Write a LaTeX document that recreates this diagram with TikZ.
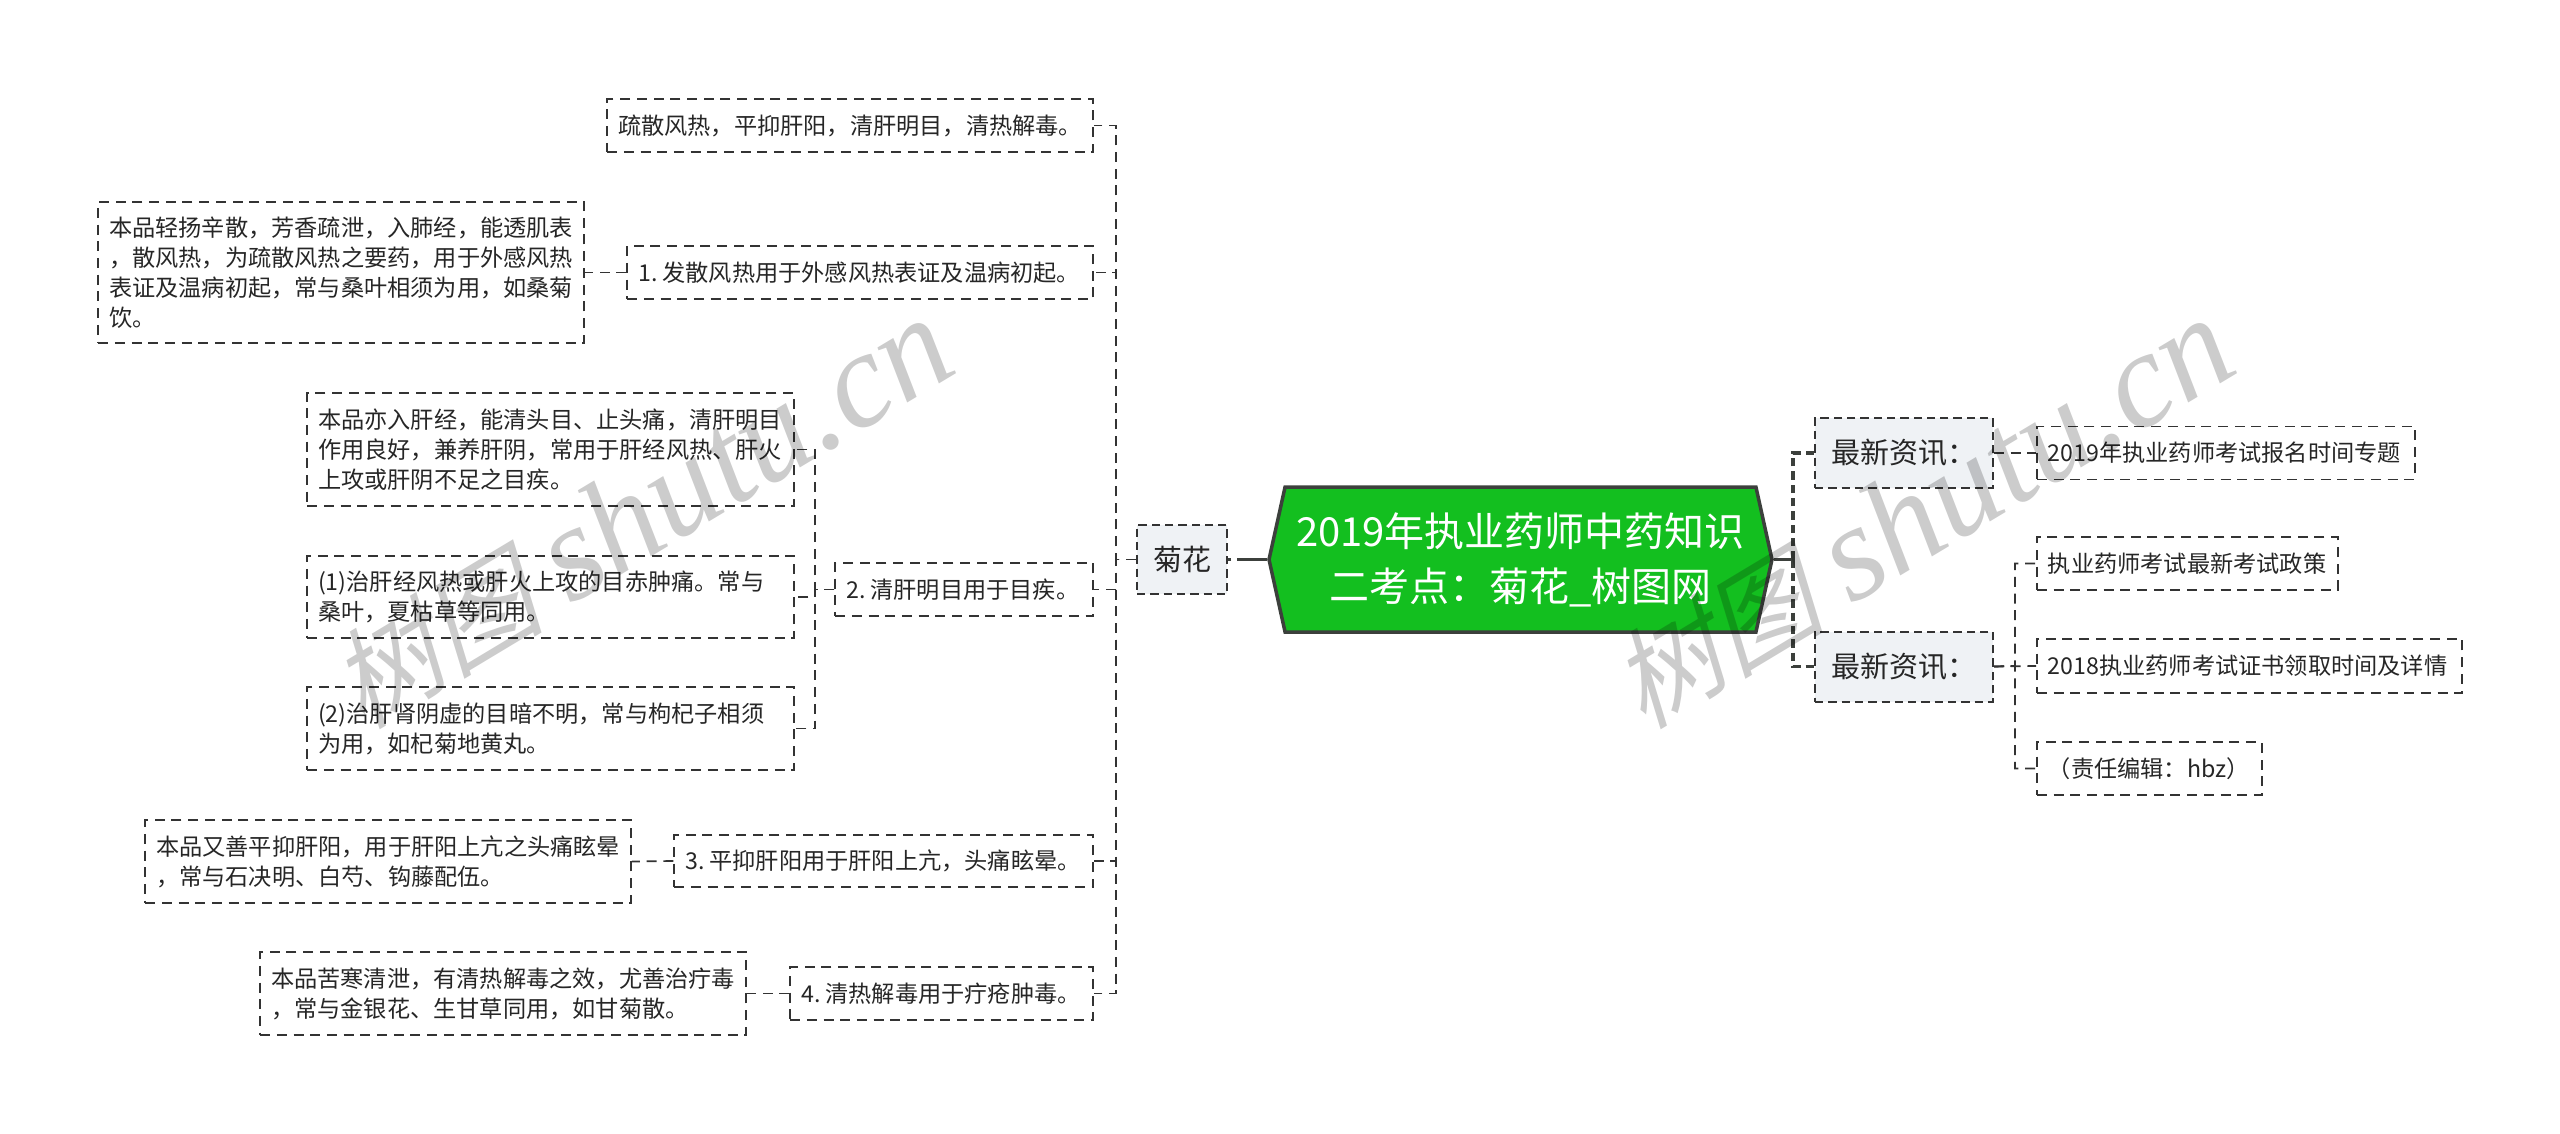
\documentclass[tikz,border=0pt]{standalone}
\usepackage{fontspec}
\setmainfont{Noto Sans CJK SC}
\newfontfamily\wmcjk[FakeSlant=0.25]{Noto Sans CJK SC}
\newfontfamily\wmlatin{Liberation Serif}
\usetikzlibrary{shapes.symbols}
\definecolor{rootgreen}{HTML}{13BF1F}
\definecolor{rootedge}{HTML}{3C403C}
\definecolor{boxfill}{HTML}{EFF2F5}
\definecolor{inkgray}{HTML}{333333}
\tikzset{
  leafbox/.style={draw=inkgray,line width=1.7pt,dash pattern=on 10pt off 6.7pt,inner xsep=11pt,inner ysep=0pt,
    align=left,text=black!85,font=\fontsize{23.2}{30}\selectfont,execute at end node={\par\vskip-6pt}},
  newsbox/.style={draw=inkgray,line width=2pt,dash pattern=on 8.3pt off 5pt,fill=boxfill,inner sep=0pt,
    text=black!85,font=\fontsize{29}{35}\selectfont},
  rootbox/.style={signal,signal to=west and east,signal pointer angle=155,draw=rootedge,line width=3.5pt,
    fill=rootgreen,inner sep=0pt,align=center,text=white,font=\fontsize{40}{55}\selectfont},
  linkline/.style={draw=inkgray,line width=1.7pt,dash pattern=on 10pt off 6.7pt},
  boldlink/.style={draw=rootedge,line width=3.4pt,dash pattern=on 8.3pt off 5pt},
  watermark/.style={opacity=0.2,text=black,rotate=31,inner sep=0pt,font=\fontsize{120}{130}\selectfont}
}
\newcommand{\markword}{{\wmcjk\fontsize{108}{130}\selectfont 树图} {\wmlatin\itshape\fontsize{136}{130}\selectfont shutu.cn}}
\begin{document}
\begin{tikzpicture}[x=1pt,y=-1pt]
\useasboundingbox (0,0) rectangle (2560,1134);
\node[rootbox,minimum width=503pt,minimum height=145pt] (root) at (1520.5,559.5) {2019年执业药师中药知识\\二考点：菊花\_树图网};
\node[newsbox,minimum width=90pt,minimum height=69pt] (flower) at (1182,559.5) {菊花};
\node[newsbox,minimum width=178pt,minimum height=70pt] (newsA) at (1904,453) {最新资讯：};
\node[newsbox,minimum width=178pt,minimum height=70pt] (newsB) at (1904,666.5) {最新资讯：};
\node[leafbox,anchor=east,text width=464pt,minimum height=53pt] (nZero) at (1094,125.5) {疏散风热，平抑肝阳，清肝明目，清热解毒。};
\node[leafbox,anchor=east,text width=444pt,minimum height=53pt] (nOne) at (1094,272.5) {1.\kern5pt 发散风热用于外感风热表证及温病初起。};
\node[leafbox,anchor=east,text width=236pt,minimum height=53pt] (nTwo) at (1094,589.5) {2.\kern5pt 清肝明目用于目疾。};
\node[leafbox,anchor=east,text width=397pt,minimum height=52pt] (nThree) at (1094,861) {3.\kern5pt 平抑肝阳用于肝阳上亢，头痛眩晕。};
\node[leafbox,anchor=east,text width=281pt,minimum height=53pt] (nFour) at (1094,993.5) {4.\kern5pt 清热解毒用于疔疮肿毒。};
\node[leafbox,anchor=east,text width=464pt,minimum height=141pt] (dOne) at (585,272.5) {本品轻扬辛散，芳香疏泄，入肺经，能透肌表\\，散风热，为疏散风热之要药，用于外感风热\\表证及温病初起，常与桑叶相须为用，如桑菊\\饮。};
\node[leafbox,anchor=east,text width=465pt,minimum height=113pt] (dTwoA) at (795,449.5) {本品亦入肝经，能清头目、止头痛，清肝明目\\作用良好，兼养肝阴，常用于肝经风热、肝火\\上攻或肝阴不足之目疾。};
\node[leafbox,anchor=east,text width=465pt,minimum height=82pt] (dTwoB) at (795,597) {(1)治肝经风热或肝火上攻的目赤肿痛。常与\\桑叶，夏枯草等同用。};
\node[leafbox,anchor=east,text width=465pt,minimum height=83pt] (dTwoC) at (795,728.5) {(2)治肝肾阴虚的目暗不明，常与枸杞子相须\\为用，如杞菊地黄丸。};
\node[leafbox,anchor=east,text width=464pt,minimum height=83pt] (dThree) at (632,861.5) {本品又善平抑肝阳，用于肝阳上亢之头痛眩晕\\，常与石决明、白芍、钩藤配伍。};
\node[leafbox,anchor=east,text width=464pt,minimum height=83pt] (dFour) at (747,993.5) {本品苦寒清泄，有清热解毒之效，尤善治疔毒\\，常与金银花、生甘草同用，如甘菊散。};
\node[leafbox,anchor=west,text width=356pt,minimum height=53pt] (itemA) at (2036,453) {2019年执业药师考试报名时间专题};
\node[leafbox,anchor=west,text width=279pt,minimum height=53pt] (itemBa) at (2036,563.5) {执业药师考试最新考试政策};
\node[leafbox,anchor=west,text width=403pt,minimum height=54pt] (itemBb) at (2036,666) {2018执业药师考试证书领取时间及详情};
\node[leafbox,anchor=west,text width=203pt,minimum height=53pt] (itemBc) at (2036,768.5) {（责任编辑：hbz）};
\coordinate (trunkL) at (1116,559.5);
\coordinate (trunkM) at (815,589.5);
\coordinate (trunkR) at (1793,559.5);
\coordinate (trunkN) at (2015,666);
\draw[boldlink,dash pattern=on 30pt off 6pt on 6pt off 30pt] (root.west) -- (flower.east);
\draw[boldlink,dash pattern=on 21pt off 100pt] (root.east) -- (trunkR);
\draw[boldlink] (trunkR) |- (newsA.west);
\draw[boldlink] (trunkR) |- (newsB.west);
\draw[linkline] (flower.west) -- (trunkL) |- (nZero.east);
\draw[linkline] (flower.west) -- (trunkL) |- (nOne.east);
\draw[linkline] (flower.west) -- (trunkL) |- (nTwo.east);
\draw[linkline] (flower.west) -- (trunkL) |- (nThree.east);
\draw[linkline] (flower.west) -- (trunkL) |- (nFour.east);
\draw[linkline] (nOne.west) -- (dOne.east);
\draw[linkline] (nTwo.west) -- (trunkM) |- (dTwoA.east);
\draw[linkline] (nTwo.west) -- (trunkM) |- (dTwoB.east);
\draw[linkline] (nTwo.west) -- (trunkM) |- (dTwoC.east);
\draw[linkline] (nThree.west) -- (dThree.east);
\draw[linkline] (nFour.west) -- (dFour.east);
\draw[linkline] (newsA.east) -- (itemA.west);
\draw[linkline] (newsB.east) -- (trunkN) |- (itemBa.west);
\draw[linkline] (newsB.east) -- (itemBb.west);
\draw[linkline] (newsB.east) -- (trunkN) |- (itemBc.west);
\node[watermark] (markA) at (640,514) {\markword};
\node[watermark] (markB) at (1921,514) {\markword};
\end{tikzpicture}
\end{document}
